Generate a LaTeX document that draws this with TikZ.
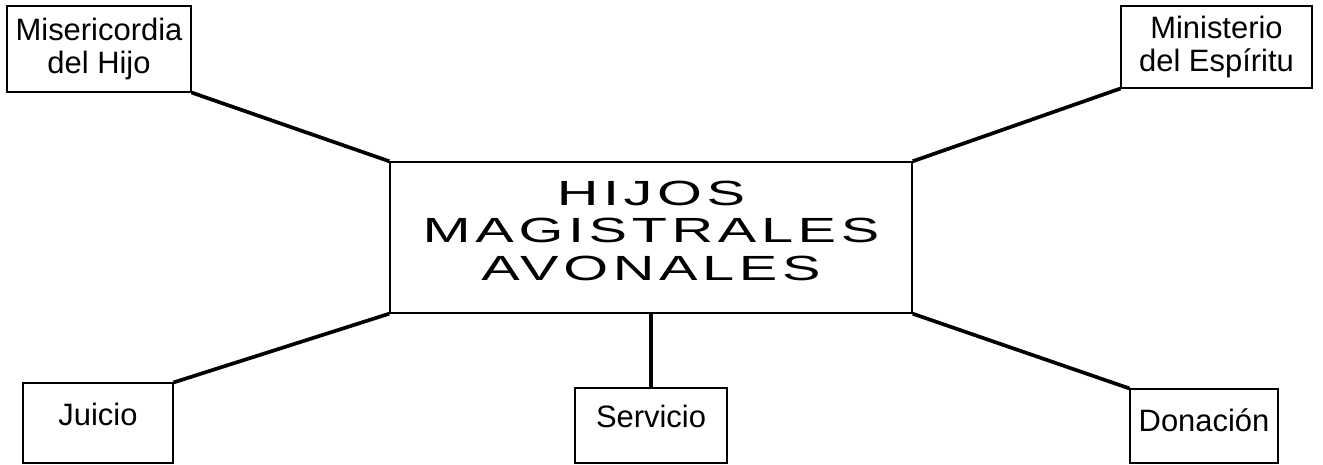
\documentclass[tikz,border=0pt]{standalone}
\usepackage{graphicx}
\usepackage{fontspec}
\setmainfont{Liberation Sans}
\newfontfamily\widefont[LetterSpace=8]{Liberation Sans}
\usepackage{tikz}
\tikzset{
    themebox/.style={draw=black, line width=0.6pt, inner sep=0pt, align=center,
        font=\fontsize{17.6pt}{18.7pt}\selectfont},
    lowbox/.style={themebox, text depth=3.6mm},
    mainbox/.style={draw=black, line width=0.8pt, inner sep=0pt,
        minimum width=104.4mm, minimum height=30.2mm,
        font=\fontsize{19.9pt}{21.6pt}\widefont},
    spoke/.style={draw=black, line width=2.1pt}
}
\newcommand{\widetitle}[1]{\scalebox{1.65}[1]{\begin{tabular}{@{}c@{}}#1\end{tabular}}}

\begin{document}
\begin{tikzpicture}
    \useasboundingbox (0,0) rectangle (264.6mm, 93mm);
    % centre
    \node[mainbox] (hijos) at (130.2mm, 45.5mm)
        {\widetitle{HIJOS\\MAGISTRALES\\AVONALES\rule[-8.9pt]{0pt}{8.9pt}}};
    % upper boxes
    \node[themebox, minimum width=36.8mm, minimum height=17.2mm] (miser) at (19.8mm, 83.2mm)
        {Misericordia\\del Hijo};
    \node[themebox, minimum width=38.2mm, minimum height=16.4mm] (minis) at (243.3mm, 83.6mm)
        {Ministerio\\del Espíritu};
    % lower boxes
    \node[lowbox, minimum width=30mm, minimum height=16mm] (juicio) at (19.6mm, 8.4mm) {Juicio};
    \node[lowbox, minimum width=30.4mm, minimum height=15mm] (servi) at (130.2mm, 7.9mm) {Servicio};
    \node[lowbox, text depth=2.4mm, minimum width=29.6mm, minimum height=14.8mm] (donac) at (240.8mm, 7.8mm) {Donación};
    % spokes
    \draw[spoke] (miser.south east) -- (hijos.north west);
    \draw[spoke] (hijos.north east) -- (minis.south west);
    \draw[spoke] (juicio.north east) -- (hijos.south west);
    \draw[spoke] (hijos.south) -- (servi.north);
    \draw[spoke] (hijos.south east) -- (donac.north west);
\end{tikzpicture}
\end{document}
